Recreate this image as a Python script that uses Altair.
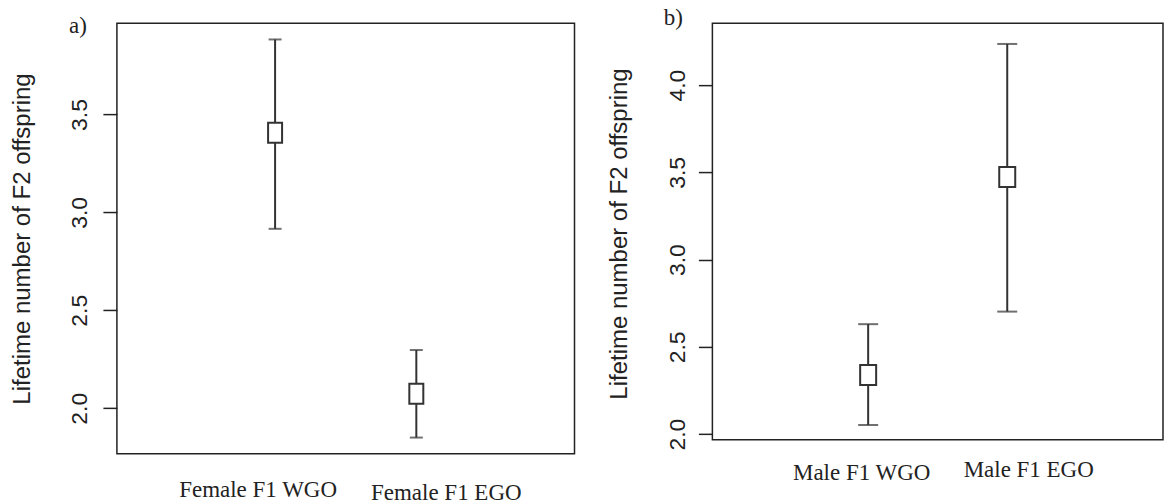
import altair as alt
import pandas as pd

# ---- data ----
positions = [1, 2]

groups_a = ["Female F1 WGO", "Female F1 EGO"]
mean_a = [3.407, 2.074]
lower_a = [2.916, 1.850]
upper_a = [3.883, 2.297]

groups_b = ["Male F1 WGO", "Male F1 EGO"]
mean_b = [2.338, 3.474]
lower_b = [2.052, 2.702]
upper_b = [2.630, 4.236]

ticks_a = [2.0, 2.5, 3.0, 3.5]
ticks_b = [2.0, 2.5, 3.0, 3.5, 4.0]
y_title = "Lifetime number of F2 offspring"
tags = ["a)", "b)"]

INK = "#222222"
LINE = "#333333"


def panel(groups, mean, lower, upper, ticks, ydom, w, h, cap, box_half, tag,
          tag_y, title_x, title_y, lab_pad, x_off, x_pad):
    df = pd.DataFrame({"pos": positions, "group": groups, "mean": mean,
                       "lower": lower, "upper": upper})
    label_expr = f"datum.value == 1 ? '{groups[0]}' : '{groups[1]}'"
    x_axis = alt.Axis(
        values=positions, labelExpr=label_expr, title=None, domain=False,
        ticks=False, tickSize=0, grid=False,
        labelFont="Liberation Serif", labelFontSize=23, labelColor=INK,
        labelAlign="center", labelBaseline="middle",
        labelOffset={"condition": {"test": "datum.value == 1", "value": x_off[0]}, "value": x_off[1]},
        labelPadding={"condition": {"test": "datum.value == 1", "value": x_pad[0]}, "value": x_pad[1]},
    )
    x_scale = alt.Scale(domain=[-0.12, 3.12], nice=False, zero=False)
    y_axis = alt.Axis(
        values=ticks, format=".1f", title=y_title, grid=False, domain=False,
        tickSize=14, tickWidth=1.5, tickColor=INK,
        labelAngle=270, labelAlign="center", labelBaseline="alphabetic",
        labelPadding=lab_pad, labelFont="Liberation Sans", labelFontSize=23,
        labelColor=INK,
        titleAngle=270, titleAlign="center", titleBaseline="alphabetic",
        titleX=title_x, titleY=title_y, titleFont="Liberation Sans",
        titleFontSize=24, titleFontWeight="normal", titleColor=INK,
    )
    y_scale = alt.Scale(domain=ydom, nice=False, zero=False)

    def X():
        return alt.X("pos:Q", scale=x_scale, axis=x_axis)

    def Y(field):
        return alt.Y(f"{field}:Q", scale=y_scale, axis=y_axis)

    base = alt.Chart(df)
    rule = base.mark_rule(color=LINE, strokeWidth=2).encode(
        x=X(), y=Y("lower"), y2="upper:Q")
    cap_hi = base.mark_tick(orient="horizontal", size=cap, thickness=2,
                            color=LINE).encode(x=X(), y=Y("upper"))
    cap_lo = base.mark_tick(orient="horizontal", size=cap, thickness=2,
                            color=LINE).encode(x=X(), y=Y("lower"))
    shape = f"M-{box_half},-1L{box_half},-1L{box_half},1L-{box_half},1Z"
    box = base.mark_point(shape=shape, size=400, filled=True, fill="white",
                          stroke=LINE, strokeWidth=2, opacity=1,
                          fillOpacity=1, strokeOpacity=1).encode(
        x=X(), y=Y("mean"))
    label = alt.Chart(pd.DataFrame({"t": [tag]})).mark_text(
        font="Liberation Serif", fontSize=23, align="center",
        baseline="middle", color=INK).encode(
        text="t:N", x=alt.value(-39), y=alt.value(tag_y))
    return alt.layer(rule, cap_hi, cap_lo, box, label).properties(width=w, height=h)


panel_a = panel(groups_a, mean_a, lower_a, upper_a, ticks_a, [1.767, 3.966],
                458, 431, 13, 0.7, tags[0], 3, -87, 215.5, 16,
                (-17.5, 29.5), (36, 38.5))
panel_b = panel(groups_b, mean_b, lower_b, upper_b, ticks_b, [1.967, 4.355],
                451, 417, 20, 0.8, tags[1], -5, -86, 210.5, 14,
                (-7, 21), (32.5, 29.5))

chart = alt.hconcat(panel_a, panel_b, spacing=138, bounds="flush").properties(
    padding={"left": 10, "top": 6, "right": 0, "bottom": 0},
    background="white",
).configure_view(stroke=INK, strokeWidth=1.5)

chart.save("out.html", embed_options={"renderer": "svg", "actions": False})
